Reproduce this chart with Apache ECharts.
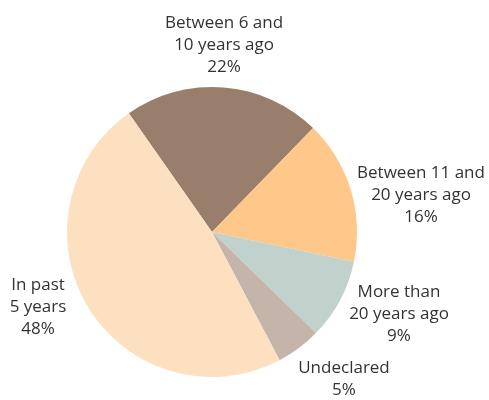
<!DOCTYPE html>
<html>
<head>
<meta charset="utf-8">
<script src="https://cdn.jsdelivr.net/npm/echarts@6/dist/echarts.min.js"></script>
<style>
html,body{margin:0;padding:0;background:#fff;}
#chart{width:489px;height:400px;}
</style>
</head>
<body>
<div id="chart"></div>
<script>
// Data
var categories = ['Between 6 and\n10 years ago', 'Between 11 and\n20 years ago', 'More than\n20 years ago', 'Undeclared', 'In past\n5 years'];
var values = [22, 16, 9, 5, 48];
var colors = ['#9A7E6C', '#FEC88A', '#C1D1CB', '#C5B4A9', '#FDE0C0'];
// label anchor points (centre of each label block)
var labelPos = [[224, 45], [421, 195], [399, 314], [344, 379], [38, 307]];

var chart = echarts.init(document.getElementById('chart'), null, {renderer: 'canvas'});
var data = categories.map(function (c, i) {
  return {name: c, value: values[i], itemStyle: {color: colors[i]}};
});
chart.setOption({
  animation: false,
  backgroundColor: '#fff',
  series: [{
    type: 'pie',
    center: [212, 232],
    radius: 145,
    startAngle: 125,
    clockwise: true,
    data: data,
    itemStyle: {borderWidth: 0},
    label: {
      show: true,
      position: 'outside',
      alignTo: 'none',
      overflow: 'none',
      formatter: '{b}\n{c}%',
      fontFamily: 'Open Sans',
      fontSize: 17,
      lineHeight: 22,
      color: '#333333',
      align: 'center'
    },
    labelLine: {show: false},
    labelLayout: function (p) {
      var pos = labelPos[p.dataIndex];
      return {x: pos[0], y: pos[1], align: 'center', verticalAlign: 'middle'};
    },
    emphasis: {disabled: true}
  }]
});
</script>
</body>
</html>
